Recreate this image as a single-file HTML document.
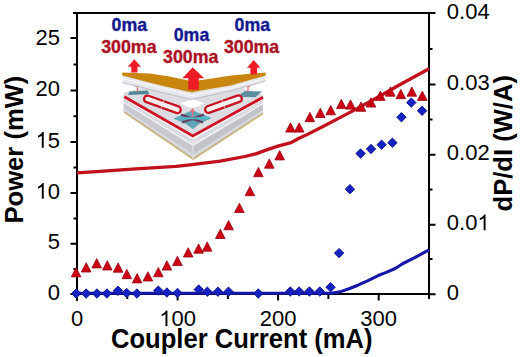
<!DOCTYPE html>
<html><head><meta charset="utf-8"><style>
html,body{margin:0;padding:0;background:#fff;}
svg{display:block;}
</style></head><body>
<svg width="520" height="357" viewBox="0 0 520 357">
<rect width="520" height="357" fill="#fff"/>
<g id="illu"><polygon points="124.3,96.3 192.8,135.0 193.2,159.3 124.2,112.2" fill="#d3d4da"/>
<polygon points="192.8,135.0 263.0,96.8 263.0,113.6 193.2,159.3" fill="#cdced4"/>
<polygon points="124.3,97.3 192.8,136.5 263.0,97.8 263.0,100.2 192.9,139.9 124.3,99.5" fill="#f3f3f5"/>
<polygon points="124.3,99.5 192.9,139.9 263.0,100.2 263.0,102.8 192.9,143.7 124.3,102.0" fill="#d9dadf"/>
<polygon points="124.3,102.0 192.9,143.7 263.0,102.8 263.0,104.5 193.0,146.2 124.3,103.6" fill="#f0f0f2"/>
<polygon points="124.3,103.6 193.0,146.2 193.1,154.4 124.2,109.0" fill="#c8c9d0"/>
<polygon points="193.0,146.2 263.0,104.5 263.0,110.2 193.1,154.4" fill="#c2c3ca"/>
<polygon points="124.2,109.0 193.1,154.4 263.0,110.2 263.0,111.9 193.2,156.9 124.2,110.6" fill="#dcdce0"/>
<polygon points="124.2,110.6 193.2,156.9 263.0,111.9 263.0,113.6 193.2,159.3 124.2,112.2" fill="#c9c6be"/>
<polyline points="124.2,112.2 193.2,159.3 263.0,113.6" fill="none" stroke="#c9ac68" stroke-width="1.3"/>
<path d="M192.8 135.0L193.2 159.3" stroke="#e6e6ea" stroke-width="1"/>
<polygon points="123.7,92.6 124.3,96.3 124.2,112.2 123.3,110.5" fill="#d6d7dc"/>
<polygon points="123.7,92.6 150.0,86.0 193.0,80.0 236.0,86.0 263.0,95.0 263.0,96.8 192.8,135.0 124.3,96.3" fill="#dcdde3"/>
<polygon points="180.3,103.8 192.4,98.8 204.5,103.5 192.4,108.4" fill="#ffffff"/>
<polygon points="129.7,91.5 147.6,90.5 149.4,94 127.9,95" fill="#4f8797"/>
<polygon points="237,96.8 245,91 262,91.5 255.5,97.2" fill="#5a8fa0"/>
<polygon points="173.5,118.5 186,113 192.5,110 199,113 211.5,118 199,124 193,129 186,124" fill="#5ea6b6"/>
<path d="M181 114.5L192.5 118.5L204 114.5M182 122.5L192.5 119L203 122.5" stroke="#6c3e5c" stroke-width="2.2" fill="none"/><path d="M176 118.3L209 118.3" stroke="#52b4c4" stroke-width="2"/>
<polyline points="124.3,96.8 192.8,135.9 263.0,97.3" fill="none" stroke="#cf1224" stroke-width="2.9"/>
<g fill="#f4f0f2" stroke="#c8101e" stroke-width="2.3">
<path transform="translate(153.2,101.0) rotate(19.6)" d="M9.5 -3.4L-6.1 -3.4A3.4 3.4 0 0 0 -6.1 3.4L9.5 3.4"/>
<path transform="translate(171.6,107.6) rotate(19.6)" d="M-9.5 -3.4L6.1 -3.4A3.4 3.4 0 0 1 6.1 3.4L-9.5 3.4"/>
<path transform="translate(214.3,107.4) rotate(-19.6)" d="M9.5 -3.4L-6.1 -3.4A3.4 3.4 0 0 0 -6.1 3.4L9.5 3.4"/>
<path transform="translate(232.7,100.8) rotate(-19.6)" d="M-9.5 -3.4L6.1 -3.4A3.4 3.4 0 0 1 6.1 3.4L-9.5 3.4"/>
</g>
<path d="M137.5 92V85M135.5 87L137.5 84L139.5 87" stroke="#e8707c" stroke-width="1.3" fill="none"/>
<path d="M248 92V85M246 87L248 84L250 87" stroke="#e8707c" stroke-width="1.3" fill="none"/>
<path d="M192.5 117V110M190.5 112L192.5 109L194.5 112" stroke="#e8707c" stroke-width="1.3" fill="none"/>
<polygon points="122.3,75.4 150.0,82.7 158.0,84.8 186.3,91.3 192.0,92.5 198.6,90.9 231.6,85.3 265.8,75.5 265.8,81.0 231.6,90.6 198.6,97.8 192.0,99.5 186.3,98.2 158.0,91.6 150.0,89.5 122.3,82.6" fill="#e6e7ec"/>
<polyline points="122.3,78.6 150.0,85.2 186.3,94.0 192.0,95.7 198.6,94.0 231.6,87.8 265.8,78.0" fill="none" stroke="#f7f7f9" stroke-width="1.2"/>
<polyline points="122.3,82.6 150.0,89.5 158.0,91.6 186.3,98.2 192.0,99.5 198.6,97.8 231.6,90.6 265.8,81.0" fill="none" stroke="#b9bac0" stroke-width="0.9"/>
<polygon points="122.3,72.5 150,73.4 168,76.3 186,80 192,81.5 200,80.2 231.6,75.6 265.5,72.5 265.8,75.5 231.6,85.3 198.6,90.9 192,92.5 186.3,91.3 158,84.8 150,82.7 122.3,75.4" fill="#c9860e"/>
<g fill="#ee1c24">
  <polygon points="134.3,59.2 141,66.8 137.5,66.8 137.5,72.6 131.3,72.6 131.3,66.8 127.8,66.8"/>
  <polygon points="192.7,67.3 204.2,78.3 198.8,78.3 198.8,89.8 188.3,89.8 188.3,78.3 182.3,78.3"/>
  <polygon points="253.7,60 260.4,67.7 257,67.7 257,74.4 250.4,74.4 250.4,67.7 247,67.7"/>
 </g><g font-family="Liberation Sans, sans-serif" font-weight="bold" font-size="17.8" stroke-width="0.35">
  <text x="111.6" y="31" fill="#15198f" stroke="#15198f">0ma</text>
  <text x="101.2" y="52.8" fill="#ab1325" stroke="#ab1325">300ma</text>
  <text x="173.7" y="41.3" fill="#15198f" stroke="#15198f">0ma</text>
  <text x="163.1" y="62.9" fill="#ab1325" stroke="#ab1325">300ma</text>
  <text x="234.6" y="31" fill="#15198f" stroke="#15198f">0ma</text>
  <text x="223.9" y="52.7" fill="#ab1325" stroke="#ab1325">300ma</text>
 </g></g>
<path d="M73 13H435" stroke="#000" stroke-width="2"/><path d="M77 12V301" stroke="#000" stroke-width="2"/><path d="M429 12V299" stroke="#000" stroke-width="2"/><path d="M76 294H430" stroke="#000" stroke-width="2"/><path d="M70.5 294.0H77 M70.5 243.7H77 M70.5 193.0H77 M70.5 142.0H77 M70.5 90.6H77 M70.5 38.0H77 M73.5 269.0H77 M73.5 218.5H77 M73.5 167.5H77 M73.5 116.3H77 M73.5 64.5H77 M429 294.3H435.5 M429 224.8H435.5 M429 154.7H435.5 M429 84.5H435.5 M429 13.0H435.5 M429 259.0H432.5 M429 189.5H432.5 M429 119.6H432.5 M429 49.0H432.5 M77.0 294V300.5 M177.6 294V300.5 M278.1 294V300.5 M378.7 294V300.5 M127.3 294V299 M227.9 294V299 M328.4 294V299 M429.0 294V299" stroke="#000" stroke-width="2" fill="none"/>
<polyline points="77,172.8 100,171.3 136,168.9 176,166.3 190,164.8 220,161.2 245,156.5 256.5,153.6 268,149.4 279.6,145.6 291.1,142.6 298,138.8 305,135.6 323,126.5 346.1,114.4 359.6,107.3 379.2,96.5 398.8,85.2 429,68.8" fill="none" stroke="#c0111d" stroke-width="3.3" stroke-linejoin="round"/>
<polyline points="77,293.3 331,293.3 340,291.9 349,288.8 357.9,285.2 366.9,281.1 377.7,275.8 386.2,272.4 395.2,268.5 403,263.5 414.2,257.9 429,249.9" fill="none" stroke="#1616a8" stroke-width="3.1" stroke-linejoin="round"/>
<g fill="#cc0012" stroke="#960010" stroke-width="0.8"><path d="M76.1 267.6L80.9 276.9L71.3 276.9Z"/><path d="M86.2 262.7L91.0 272.0L81.4 272.0Z"/><path d="M96.7 258.6L101.5 267.9L91.9 267.9Z"/><path d="M107.3 260.7L112.1 270.0L102.5 270.0Z"/><path d="M118.1 262.9L122.9 272.2L113.3 272.2Z"/><path d="M126.8 269.4L131.6 278.7L122.0 278.7Z"/><path d="M137.1 273.6L141.9 282.9L132.3 282.9Z"/><path d="M147.9 271.7L152.7 281.0L143.1 281.0Z"/><path d="M158.3 267.5L163.1 276.8L153.5 276.8Z"/><path d="M166.9 260.8L171.7 270.1L162.1 270.1Z"/><path d="M177.4 256.3L182.2 265.6L172.6 265.6Z"/><path d="M188.2 247.7L193.0 257.0L183.4 257.0Z"/><path d="M198.6 243.9L203.4 253.2L193.8 253.2Z"/><path d="M207.2 241.9L212.0 251.2L202.4 251.2Z"/><path d="M220.3 229.2L225.1 238.5L215.5 238.5Z"/><path d="M228.6 220.5L233.4 229.8L223.8 229.8Z"/><path d="M239.4 203.2L244.2 212.5L234.6 212.5Z"/><path d="M249.9 186.4L254.7 195.7L245.1 195.7Z"/><path d="M258.4 167.4L263.2 176.7L253.6 176.7Z"/><path d="M269.3 158.9L274.1 168.2L264.5 168.2Z"/><path d="M279.7 150.6L284.5 159.9L274.9 159.9Z"/><path d="M290.5 122.8L295.3 132.1L285.7 132.1Z"/><path d="M299.2 122.8L304.0 132.1L294.4 132.1Z"/><path d="M309.9 112.4L314.7 121.7L305.1 121.7Z"/><path d="M320.3 108.2L325.1 117.5L315.5 117.5Z"/><path d="M330.7 105.5L335.5 114.8L325.9 114.8Z"/><path d="M341.3 99.3L346.1 108.6L336.5 108.6Z"/><path d="M350.5 99.8L355.3 109.1L345.7 109.1Z"/><path d="M361.0 102.0L365.8 111.3L356.2 111.3Z"/><path d="M371.0 97.8L375.8 107.1L366.2 107.1Z"/><path d="M380.3 91.1L385.1 100.4L375.5 100.4Z"/><path d="M390.3 86.9L395.1 96.2L385.5 96.2Z"/><path d="M400.8 89.4L405.6 98.7L396.0 98.7Z"/><path d="M411.8 86.9L416.6 96.2L407.0 96.2Z"/><path d="M422.3 91.1L427.1 100.4L417.5 100.4Z"/></g>
<g fill="#1422c2" stroke="#0a1088" stroke-width="0.9"><path d="M76.2 288.8L80.9 293.5L76.2 298.2L71.5 293.5Z"/><path d="M86.2 288.8L90.9 293.5L86.2 298.2L81.5 293.5Z"/><path d="M96.9 288.8L101.6 293.5L96.9 298.2L92.2 293.5Z"/><path d="M106.9 288.8L111.6 293.5L106.9 298.2L102.2 293.5Z"/><path d="M118.0 286.1L122.7 290.8L118.0 295.5L113.3 290.8Z"/><path d="M126.6 288.3L131.3 293.0L126.6 297.7L121.9 293.0Z"/><path d="M136.9 288.8L141.6 293.5L136.9 298.2L132.2 293.5Z"/><path d="M158.3 285.9L163.0 290.6L158.3 295.3L153.6 290.6Z"/><path d="M166.9 287.8L171.6 292.5L166.9 297.2L162.2 292.5Z"/><path d="M177.5 288.3L182.2 293.0L177.5 297.7L172.8 293.0Z"/><path d="M198.7 284.8L203.4 289.5L198.7 294.2L194.0 289.5Z"/><path d="M207.3 287.0L212.0 291.7L207.3 296.4L202.6 291.7Z"/><path d="M217.9 287.0L222.6 291.7L217.9 296.4L213.2 291.7Z"/><path d="M228.5 287.0L233.2 291.7L228.5 296.4L223.8 291.7Z"/><path d="M258.3 288.8L263.0 293.5L258.3 298.2L253.6 293.5Z"/><path d="M290.3 286.8L295.0 291.5L290.3 296.2L285.6 291.5Z"/><path d="M299.1 286.8L303.8 291.5L299.1 296.2L294.4 291.5Z"/><path d="M309.4 286.8L314.1 291.5L309.4 296.2L304.7 291.5Z"/><path d="M319.8 286.8L324.5 291.5L319.8 296.2L315.1 291.5Z"/><path d="M330.6 282.5L335.3 287.2L330.6 291.9L325.9 287.2Z"/><path d="M339.1 248.4L343.8 253.1L339.1 257.8L334.4 253.1Z"/><path d="M349.9 184.5L354.6 189.2L349.9 193.9L345.2 189.2Z"/><path d="M360.6 148.8L365.3 153.5L360.6 158.2L355.9 153.5Z"/><path d="M371.0 144.3L375.7 149.0L371.0 153.7L366.3 149.0Z"/><path d="M381.6 140.0L386.3 144.7L381.6 149.4L376.9 144.7Z"/><path d="M392.4 138.0L397.1 142.7L392.4 147.4L387.7 142.7Z"/><path d="M401.4 112.5L406.1 117.2L401.4 121.9L396.7 117.2Z"/><path d="M411.3 97.9L416.0 102.6L411.3 107.3L406.6 102.6Z"/><path d="M422.1 106.1L426.8 110.8L422.1 115.5L417.4 110.8Z"/></g>
<g font-family="Liberation Sans, sans-serif" font-size="22" fill="#000"><text x="47.76" y="299.90">0</text><text x="47.76" y="249.20">5</text><path transform="translate(35.53,198.80) scale(0.01074,-0.01074)" d="M763 0L583 0L583 1147Q518 1085 412.5 1023Q307 961 223 930L223 1104Q374 1175 487 1276Q600 1377 647 1472L763 1472Z"/><text x="47.76" y="198.80">0</text><path transform="translate(35.53,147.70) scale(0.01074,-0.01074)" d="M763 0L583 0L583 1147Q518 1085 412.5 1023Q307 961 223 930L223 1104Q374 1175 487 1276Q600 1377 647 1472L763 1472Z"/><text x="47.76" y="147.70">5</text><text x="35.53" y="96.10">20</text><text x="35.53" y="44.60">25</text><text x="446.80" y="300.40">0</text><text x="446.80" y="230.20">0.0</text><path transform="translate(477.38,230.20) scale(0.01074,-0.01074)" d="M763 0L583 0L583 1147Q518 1085 412.5 1023Q307 961 223 930L223 1104Q374 1175 487 1276Q600 1377 647 1472L763 1472Z"/><text x="446.80" y="160.10">0.02</text><text x="446.80" y="89.80">0.03</text><text x="446.80" y="19.40">0.04</text><text x="70.88" y="326.30">0</text><path transform="translate(159.22,326.30) scale(0.01074,-0.01074)" d="M763 0L583 0L583 1147Q518 1085 412.5 1023Q307 961 223 930L223 1104Q374 1175 487 1276Q600 1377 647 1472L763 1472Z"/><text x="171.45" y="326.30">00</text><text x="259.79" y="326.30">200</text><text x="360.36" y="326.30">300</text></g>
<g font-family="Liberation Sans, sans-serif" font-size="25.6" font-weight="bold" fill="#000">
<text transform="translate(111,347.9) scale(1,1.055)">Coupler Current (mA)</text>
<text transform="translate(22.5,223.5) rotate(-90)">Power (mW)</text>
<text transform="translate(511.6,211.5) rotate(-90)">dP/dI (W/A)</text>
</g>
</svg>
</body></html>
